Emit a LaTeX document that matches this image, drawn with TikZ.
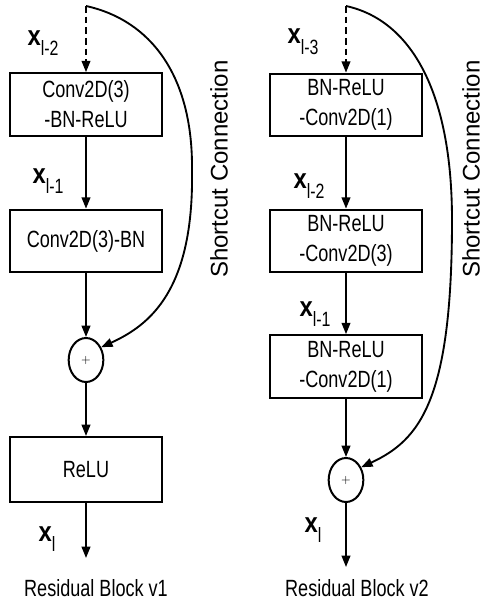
\documentclass[tikz,border=0pt]{standalone}
\usepackage{fontspec}
\usetikzlibrary{arrows.meta,shapes.geometric}
\newfontfamily\af[FakeStretch=0.77]{Liberation Sans}
\newfontfamily\afx[FakeStretch=0.85]{Liberation Sans}
\newfontfamily\afr{Liberation Sans}
\newcommand\mtxt{\af\fontsize{17.6}{22.5}\selectfont}
\newcommand\xlab[1]{{\afx\fontsize{21}{21}\selectfont\bfseries x}\raisebox{-8pt}{\af\fontsize{15.5}{15.5}\selectfont #1}}
\begin{document}
\begin{tikzpicture}[x=0.75pt,y=-0.75pt,
  box/.style={draw, line width=1.5pt, minimum width=114pt, minimum height=47pt, inner sep=0pt, align=center, font=\mtxt},
  add/.style={draw, ellipse, line width=1.5pt, minimum width=26pt, minimum height=33pt, inner sep=0pt},
  arr/.style={line width=1.4pt, -{Triangle[length=8.5pt,width=6.5pt]}},
  dsh/.style={dash pattern=on 5pt off 3pt},
  lbl/.style={inner sep=0pt},
  captxt/.style={inner sep=0pt, font=\mtxt},
  sctxt/.style={inner sep=0pt, rotate=90}]
\useasboundingbox (0,0) rectangle (483,602);
% ---- Block v1
\coordinate (s1) at (86,6);
\node[box] (a1) at (86,104.5) {Conv2D(3)\\-BN-ReLU};
\node[box] (a2) at (86,241) {Conv2D(3)-BN};
\node[add] (p1) at (86,360) {\fontsize{9}{9}\selectfont +};
\node[box, minimum height=48.75pt] (a3) at (86,469.5) {ReLU};
\coordinate (e1) at (86,558);
\draw[arr,dsh] (s1) -- (a1.north);
\draw[arr] (a1) -- (a2);
\draw[arr] (a2) -- (p1);
\draw[arr] (p1) -- (a3);
\draw[arr] (a3) -- (e1);
\draw[arr] (s1) .. controls (150,20) and (193,75) .. (192,170) .. controls (194,290) and (150,325) .. (p1.40);
\node[lbl] (l1a) at (43,43) {\xlab{l-2}};
\node[lbl] (l1b) at (48,181) {\xlab{l-1}};
\node[lbl] (l1c) at (47,539) {\xlab{l}};
\node[captxt] (c1) at (96,588) {Residual Block v1};
\node[sctxt] (t1) at (219,169) {\afr\fontsize{18}{18}\selectfont Shortcut Connection};
% ---- Block v2
\coordinate (s2) at (346,6);
\node[box] (b1) at (346,105) {BN-ReLU\\-Conv2D(1)};
\node[box] (b2) at (346,241) {BN-ReLU\\-Conv2D(3)};
\node[box] (b3) at (346,366.5) {BN-ReLU\\-Conv2D(1)};
\node[add] (p2) at (346,480) {\fontsize{9}{9}\selectfont +};
\coordinate (e2) at (346,567);
\draw[arr,dsh] (s2) -- (b1.north);
\draw[arr] (b1) -- (b2);
\draw[arr] (b2) -- (b3);
\draw[arr] (b3) -- (p2);
\draw[arr] (p2) -- (e2);
\draw[arr] (s2) .. controls (410,20) and (452,90) .. (452,220) .. controls (452,400) and (420,440) .. (p2.40);
\node[lbl] (l2a) at (303,42) {\xlab{l-3}};
\node[lbl] (l2b) at (309,186) {\xlab{l-2}};
\node[lbl] (l2c) at (315,314) {\xlab{l-1}};
\node[lbl] (l2d) at (313,530) {\xlab{l}};
\node[captxt] (c2) at (357,588) {Residual Block v2};
\node[sctxt] (t2) at (471,169) {\afr\fontsize{18}{18}\selectfont Shortcut Connection};
\end{tikzpicture}
\end{document}
